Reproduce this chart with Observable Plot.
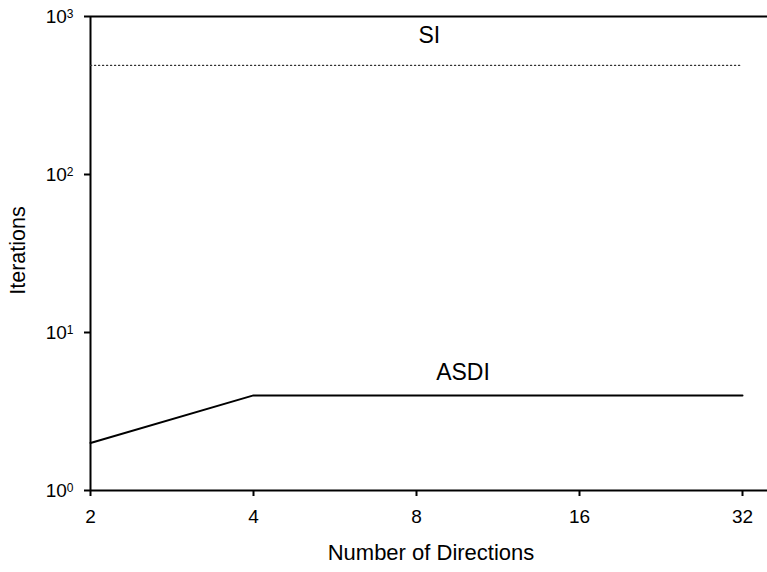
<!DOCTYPE html>
<html>
<head>
<meta charset="utf-8">
<script src="https://cdn.jsdelivr.net/npm/d3@7"></script>
<script src="https://cdn.jsdelivr.net/npm/@observablehq/plot@0.6"></script>
<style>
  html, body { margin: 0; padding: 0; background: white; }
</style>
</head>
<body>
<div id="chart"></div>
<script>
// ---- data ----
const directions = [2, 4, 8, 16, 32];
const asdiIterations = [2, 4, 4, 4, 4];
const siIterations = [490, 490, 490, 490, 490];
const xTicks = [2, 4, 8, 16, 32];
const yTicks = [1, 10, 100, 1000];
const seriesNames = ["SI", "ASDI"];
const seriesLabelX = [8.45, 9.75];
const seriesLabelY = [758, 5.54];

const toRows = (vals, name) => directions.map((d, i) => ({directions: d, iterations: vals[i], series: name}));
const siRows = toRows(siIterations, "SI");
const asdiRows = toRows(asdiIterations, "ASDI");
const labelRows = seriesNames.map((n, i) => ({name: n, x: seriesLabelX[i], y: seriesLabelY[i]}));

const chart = Plot.plot({
  width: 767,
  height: 572,
  marginLeft: 90,
  marginRight: 0,
  marginTop: 16,
  marginBottom: 82,
  style: {fontFamily: '"Liberation Sans", Arial, sans-serif', fontSize: "19px", background: "white", color: "black", overflow: "visible"},
  x: {type: "log", base: 2, domain: [2, 32], range: [90, 742]},
  y: {type: "log", domain: [1, 1000]},
  marks: [
    Plot.ruleY([1, 1000], {stroke: "black", strokeWidth: 2}),
    Plot.ruleX([2], {stroke: "black", strokeWidth: 2}),
    Plot.axisY({ticks: yTicks, tickSize: 6, tickPadding: 11, strokeWidth: 2, label: null,
      tickFormat: d => `10^${Math.round(Math.log10(d))}`}),
    Plot.axisX({ticks: xTicks, tickSize: 6, tickPadding: 13, strokeWidth: 2, label: null,
      tickFormat: d => String(d)}),
    Plot.line(siRows, {x: "directions", y: "iterations", stroke: "#333", strokeWidth: 1.2, strokeDasharray: "1.2,2.8"}),
    Plot.line(asdiRows, {x: "directions", y: "iterations", stroke: "black", strokeWidth: 2}),
    Plot.text(labelRows, {x: "x", y: "y", text: "name", fontSize: 23, fill: "black"}),
    Plot.text(["Iterations"], {frameAnchor: "left", textAnchor: "middle", lineAnchor: "middle", dx: -72, dy: -3, rotate: -90, fontSize: 21.5, fill: "black"}),
    Plot.text(["Number of Directions"], {frameAnchor: "bottom", textAnchor: "middle", lineAnchor: "middle", dx: 2, dy: 62, fontSize: 22, fill: "black"})
  ]
});

// superscript exponents on the y tick labels
const svgNS = "http://www.w3.org/2000/svg";
chart.querySelectorAll('g[aria-label="y-axis tick label"] text').forEach(t => {
  const parts = t.textContent.split("^");
  if (parts.length === 2) {
    t.textContent = parts[0];
    const ts = document.createElementNS(svgNS, "tspan");
    ts.setAttribute("font-size", "12");
    ts.setAttribute("dy", "-5");
    ts.textContent = parts[1];
    t.appendChild(ts);
  }
});

document.getElementById("chart").appendChild(chart);
</script>
</body>
</html>
